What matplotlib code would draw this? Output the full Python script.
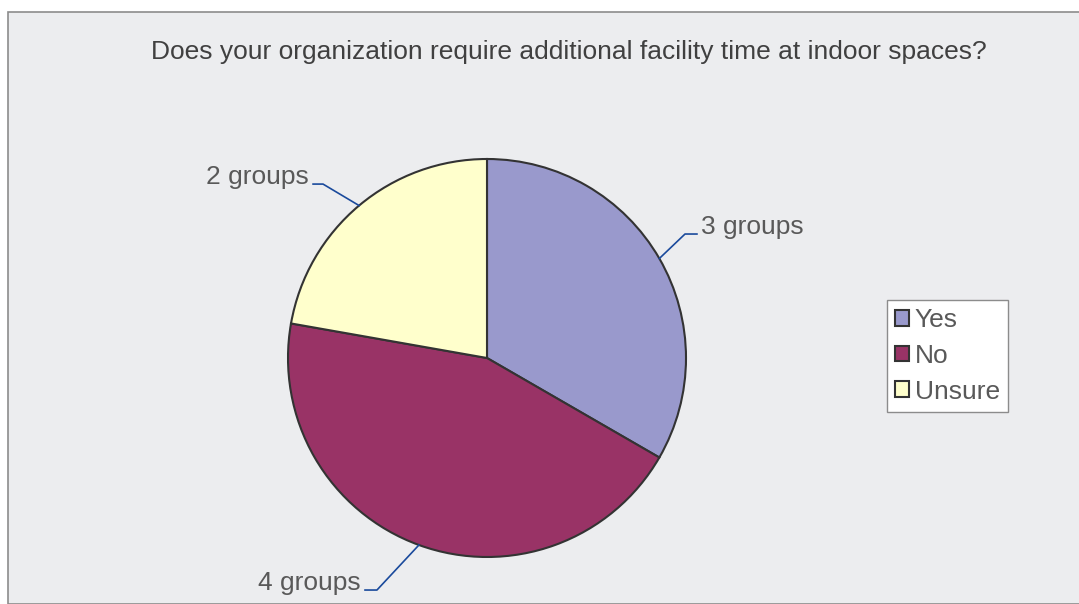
import numpy as np
import matplotlib
matplotlib.use('Agg')
import matplotlib.pyplot as plt
from matplotlib.patches import Rectangle

# данные
categories = ['Yes', 'No', 'Unsure']
groups = [3, 4, 2]
labels = ['3 groups', '4 groups', '2 groups']
title = 'Does your organization require additional facility time at indoor spaces?'

colors = ['#9999CC', '#993366', '#FFFFCC']
plt.rcParams['font.family'] = ['Liberation Sans', 'DejaVu Sans']

W, H = 1079, 604
fig = plt.figure(figsize=(W / 100, H / 100), dpi=100)
fig.patch.set_facecolor('white')

# фон диаграммы с рамкой
fig.patches.append(Rectangle((8 / W, 0), 1.0, 1 - 12 / H, transform=fig.transFigure,
                             facecolor='#ECEDEF', edgecolor='#8C8C8C', linewidth=1.2, zorder=-5))

fig.text(569 / W, 1 - 52 / H, title, ha='center', va='center', fontsize=19, color='#404040')

# круг: центр (487, 358), радиус 199 px
cx, cy, r = 487, 358, 199
ax = fig.add_axes([(cx - r) / W, (H - cy - r) / H, 2 * r / W, 2 * r / H])
ax.set_zorder(2)
wedges, _ = ax.pie(groups, colors=colors, startangle=90, counterclock=False,
                   wedgeprops=dict(edgecolor='#333333', linewidth=1.5))
ax.set_xlim(-1, 1)
ax.set_ylim(-1, 1)
ax.axis('off')

# выноски: (угол изгиба x, y), длина горизонтального отрезка
elbows = [(0.995, 0.623, 0.06), (-0.553, -1.166, -0.06), (-0.824, 0.874, -0.05)]
for w, lab, (ex, ey, dx) in zip(wedges, labels, elbows):
    ang = np.deg2rad((w.theta1 + w.theta2) / 2)
    px, py = np.cos(ang), np.sin(ang)
    ax.plot([px, ex, ex + dx], [py, ey, ey], color='#1A4A9C', linewidth=1.2, clip_on=False)
    ha = 'left' if dx > 0 else 'right'
    ax.text(ex + dx + np.sign(dx) * 0.02, ey, lab, ha=ha, va='baseline',
            fontsize=19, color='#595959', clip_on=False)

leg = fig.legend(wedges, categories, loc='upper left',
                 bbox_to_anchor=(887 / W, 1 - 300 / H), fontsize=19,
                 frameon=True, fancybox=False, framealpha=1, handlelength=0.55, handleheight=0.55,
                 handletextpad=0.2, borderpad=0.3, labelspacing=0.45, borderaxespad=0)
leg.get_frame().set_edgecolor('#8C8C8C')
leg.get_frame().set_facecolor('white')
leg.get_frame().set_linewidth(1.0)
for t in leg.get_texts():
    t.set_color('#595959')

fig.savefig('out.png', dpi=100)
